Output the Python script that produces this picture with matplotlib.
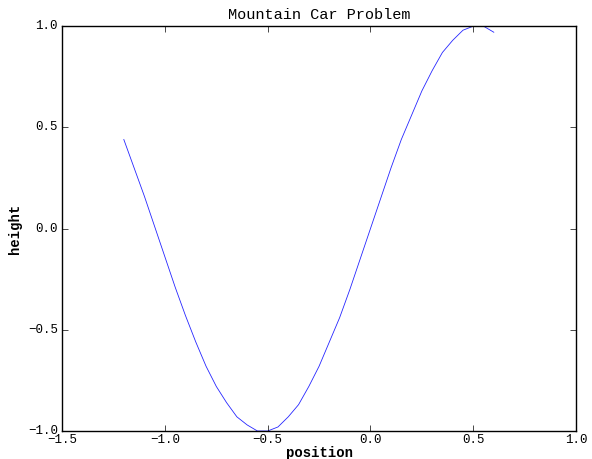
import matplotlib
matplotlib.use('Agg')
from matplotlib import pyplot as plt

position = [-1.20, -1.15, -1.10, -1.05, -1.00, -0.95, -0.90, -0.85, -0.80,
            -0.75, -0.70, -0.65, -0.60, -0.55, -0.50, -0.45, -0.40, -0.35,
            -0.30, -0.25, -0.20, -0.15, -0.10, -0.05, 0.00, 0.05, 0.10,
            0.15, 0.20, 0.25, 0.30, 0.35, 0.40, 0.45, 0.50, 0.55, 0.60]
height = [0.44, 0.30, 0.16, 0.01, -0.14, -0.29, -0.43, -0.56, -0.68,
          -0.78, -0.86, -0.93, -0.97, -1.00, -1.00, -0.98, -0.93, -0.87,
          -0.78, -0.68, -0.56, -0.44, -0.30, -0.15, 0.00, 0.15, 0.30,
          0.44, 0.56, 0.68, 0.78, 0.87, 0.93, 0.98, 1.00, 1.00, 0.97]


def plot():
    plt.style.use('classic')
    plt.rcParams['font.family'] = ['Liberation Mono', 'DejaVu Sans']
    fig = plt.figure(figsize=(5.92, 4.59), dpi=100)
    ax = fig.add_axes([0.105, 0.061, 0.868, 0.882])
    ax.plot(position, height, color='#0000ff', linewidth=0.6, alpha=0.85)
    ax.set_xlim(-1.5, 1.0)
    ax.set_ylim(-1.0, 1.0)
    ax.tick_params(labelsize=9)
    ax.tick_params(axis='x', pad=2)
    ax.tick_params(axis='y', pad=3)
    ax.set_title('Mountain Car Problem', fontsize=11, pad=5)
    ax.set_xlabel('position', fontsize=10, fontweight='bold', labelpad=0)
    ax.set_ylabel('height', fontsize=10, fontweight='bold', labelpad=4)
    fig.savefig('out.png', dpi=100)


plot()
